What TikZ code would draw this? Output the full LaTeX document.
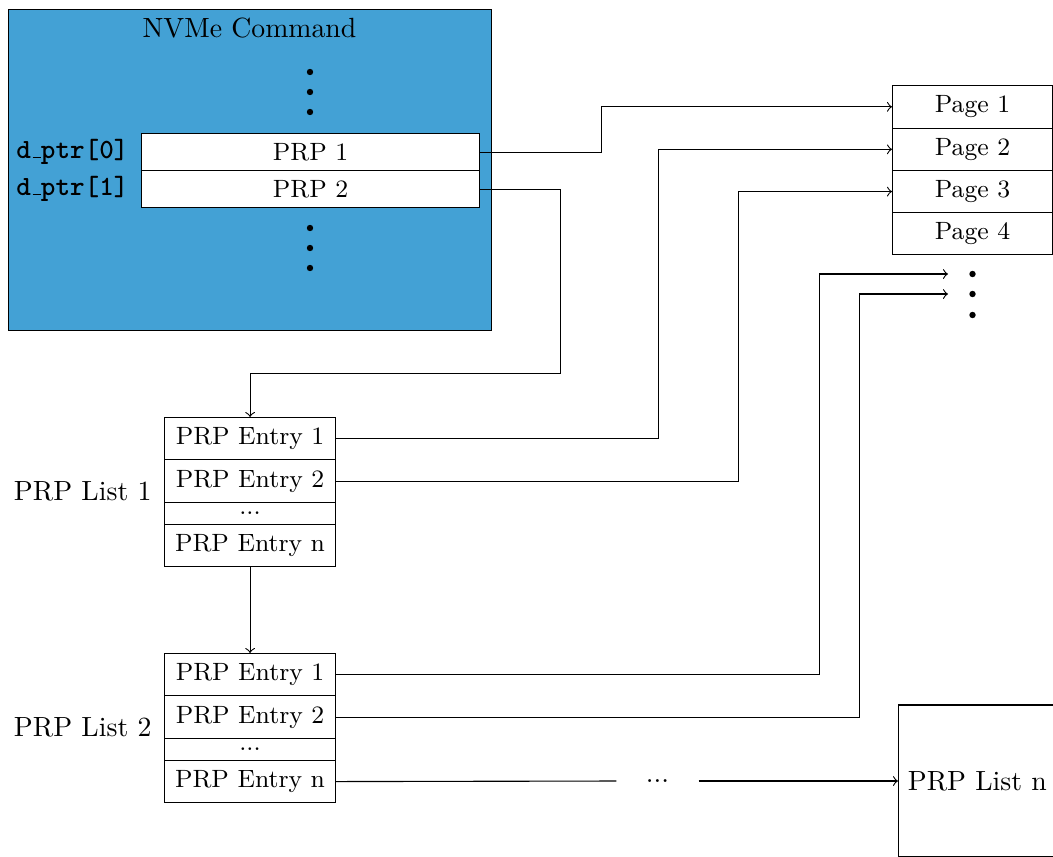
\documentclass[tikz,border=0pt]{standalone}
\definecolor{cmdblue}{RGB}{67,161,213}
% short rule underscore, as in the classic OT1 \_
\newcommand\usc{\leavevmode\kern.06em\vbox{\hrule width.3em}}
% a rectangular table cell given by its corners (in px units)
\newcommand\tablecell[6]{%
  \node[cellbox, minimum width={(#4-#2)*0.36pt}, minimum height={(#5-#3)*0.36pt},
        anchor=north west] (#1) at (#2,#3) {#6};}
\tikzset{
  cellbox/.style={draw, fill=white, inner sep=0pt, font=\small},
  cmdbox/.style={draw, fill=cmdblue, inner sep=0pt, anchor=north west},
  ptrlabel/.style={anchor=east, inner sep=0pt, font=\ttfamily\bfseries},
  listlabel/.style={anchor=east, inner sep=0pt},
  conn/.style={->},
  bigdot/.style={fill=black},
}
\begin{document}
\begin{tikzpicture}[x=0.36pt, y=-0.36pt, >=to]
\useasboundingbox (0,0) rectangle (1053,856);

% NVMe command block
\node[cmdbox, minimum width={483*0.36pt}, minimum height={321*0.36pt}] (cmd) at (8,9) {};
\node (cmdtitle) at (249.5,28.5) {NVMe Command};
\foreach \y in {72,92,112,228,248,268} \fill[bigdot] (310,\y) circle[radius=1.15pt];
\tablecell{prp1}{141}{133}{479}{170}{PRP 1}
\tablecell{prp2}{141}{170}{479}{207}{PRP 2}
\node[ptrlabel] (ptr0) at (129,151.5) {d\usc ptr[0]};
\node[ptrlabel] (ptr1) at (129,188.5) {d\usc ptr[1]};

% memory pages
\tablecell{page1}{892}{85}{1052}{127.5}{Page 1}
\tablecell{page2}{892}{127.5}{1052}{170}{Page 2}
\tablecell{page3}{892}{170}{1052}{212}{Page 3}
\tablecell{page4}{892}{212}{1052}{254}{Page 4}
\foreach \y in {274,294,315} \fill[bigdot] (972.5,\y) circle[radius=1.15pt];
\coordinate (more1) at (948,274);
\coordinate (more2) at (948,294);

% PRP list 1
\tablecell{la1}{164}{417}{335}{459.3}{PRP Entry 1}
\tablecell{la2}{164}{459.3}{335}{501.7}{PRP Entry 2}
\tablecell{lad}{164}{501.7}{335}{524}{...}
\tablecell{lan}{164}{524}{335}{566}{PRP Entry n}
\node[listlabel] (lista) at (152,491.5) {PRP List 1};

% PRP list 2
\tablecell{lb1}{164}{653}{335}{695.3}{PRP Entry 1}
\tablecell{lb2}{164}{695.3}{335}{737.7}{PRP Entry 2}
\tablecell{lbd}{164}{737.7}{335}{760}{...}
\tablecell{lbn}{164}{760}{335}{802}{PRP Entry n}
\node[listlabel] (listb) at (152,727.5) {PRP List 2};

% PRP list n
\node[draw, anchor=west, minimum height={152*0.36pt}] (listn) at (898,781) {PRP List n};
\node[inner sep=0pt, minimum width={81*0.36pt}] (gap) at (657.5,781) {...};

% pointers
\draw[conn] (prp1.east) -- ++(121,0) |- (page1.west);
\draw[conn] (prp2.east) -- ++(80,0) -- ++(0,184) -| (la1.north);
\draw[conn] (la1.east) -- ++(322,0) |- (page2.west);
\draw[conn] (la2.east) -- ++(402,0) |- (page3.west);
\draw[conn] (lan.south) -- (lb1.north);
\draw[conn] (lb1.east) -- ++(483,0) |- (more1);
\draw[conn] (lb2.east) -- ++(523,0) |- (more2);
\draw (lbn.east) -- (gap.west);
\draw[conn] (gap.east) -- (listn.west);
\end{tikzpicture}
\end{document}
